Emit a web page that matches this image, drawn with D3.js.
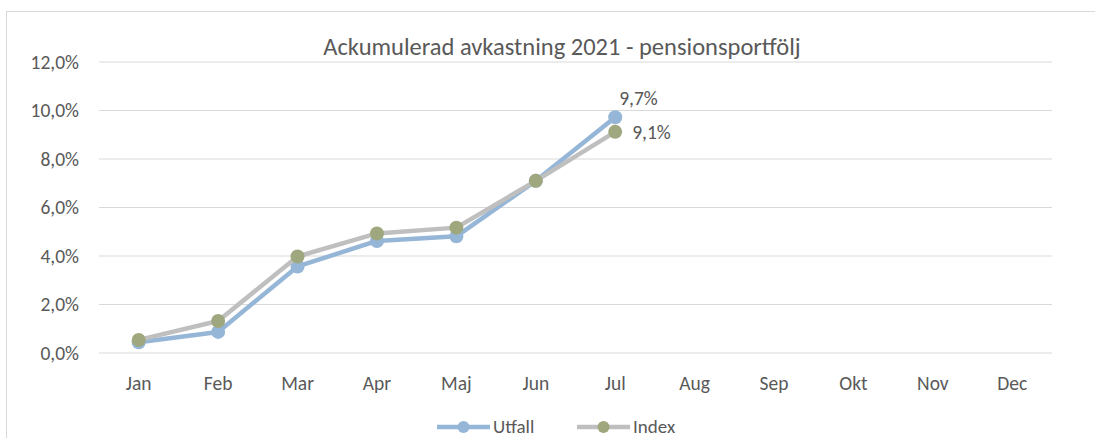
<!DOCTYPE html>
<html>
<head>
<meta charset="utf-8">
<script src="https://cdn.jsdelivr.net/npm/d3@7"></script>
<style>
  body { margin: 0; background: #fff; }
  text { font-family: Carlito, Lato, "Open Sans", sans-serif; fill: #595959; }
</style>
</head>
<body>
<svg id="grafico"></svg>
<script>
// Data
var manader = ['Jan','Feb','Mar','Apr','Maj','Jun','Jul','Aug','Sep','Okt','Nov','Dec'];
var utfall = [0.44, 0.87, 3.57, 4.62, 4.81, 7.10, 9.72];
var index = [0.54, 1.32, 3.98, 4.93, 5.17, 7.10, 9.12];
var yTicks = [0, 2, 4, 6, 8, 10, 12];
var titel = 'Ackumulerad avkastning 2021 - pensionsportfölj';

var bredd = 1095, hojd = 438;
var svg = d3.select('#grafico').attr('width', bredd).attr('height', hojd);

// Chart border
svg.append('rect')
   .attr('x', 6.5).attr('y', 11.5)
   .attr('width', 1100).attr('height', 440)
   .attr('fill', 'none').attr('stroke', '#d9d9d9');

var margem = { esquerda: 99, direita: 43, superior: 62, inferior: 85 };
var larguraPlot = bredd - margem.esquerda - margem.direita;
var alturaPlot = 353 - margem.superior;

var plot = svg.append('g')
              .attr('transform', 'translate(' + margem.esquerda + ',' + margem.superior + ')');

var x = d3.scaleBand().domain(manader).range([0, larguraPlot]);
var y = d3.scaleLinear().domain([0, 12]).range([alturaPlot, 0]);
var fmt = function(v) { return v.toFixed(1).replace('.', ',') + '%'; };
var fs = '19.5px';

// Grid
plot.selectAll('.grade')
    .data(yTicks)
    .enter().append('line')
    .attr('x1', 0).attr('x2', larguraPlot)
    .attr('y1', d => y(d)).attr('y2', d => y(d))
    .attr('stroke', '#d9d9d9').attr('stroke-width', 1);

// Y labels
plot.selectAll('.ylab')
    .data(yTicks)
    .enter().append('text')
    .attr('x', -20).attr('y', d => y(d))
    .attr('dy', '0.35em')
    .attr('text-anchor', 'end')
    .style('font-size', fs)
    .text(fmt);

// X labels
plot.selectAll('.xlab')
    .data(manader)
    .enter().append('text')
    .attr('x', d => x(d) + x.bandwidth() / 2)
    .attr('y', alturaPlot + 37)
    .attr('text-anchor', 'middle')
    .style('font-size', fs)
    .text(d => d);

// Series
var serier = [
  { namn: 'Index', data: index, linje: '#bfbfbf', punkt: '#9ea77e' },
  { namn: 'Utfall', data: utfall, linje: '#95b6d6', punkt: '#95b6d6' }
];
var linje = d3.line()
              .x((d, i) => x(manader[i]) + x.bandwidth() / 2)
              .y(d => y(d));

function ritaSerie(s) {
  plot.append('path')
      .datum(s.data)
      .attr('d', linje)
      .attr('fill', 'none')
      .attr('stroke', s.linje)
      .attr('stroke-width', 4.5)
      .attr('stroke-linejoin', 'round');
  plot.selectAll('.p' + s.namn)
      .data(s.data)
      .enter().append('circle')
      .attr('cx', (d, i) => x(manader[i]) + x.bandwidth() / 2)
      .attr('cy', d => y(d))
      .attr('r', 7)
      .attr('fill', s.punkt);
}
// Utfall drawn first, Index on top
ritaSerie(serier[1]);
ritaSerie(serier[0]);

// Data labels for last values
var sista = utfall.length - 1;
var xs = x(manader[sista]) + x.bandwidth() / 2;
plot.append('text')
    .attr('x', xs + 4).attr('y', y(utfall[sista]) - 12)
    .style('font-size', fs)
    .text(fmt(utfall[sista]));
plot.append('text')
    .attr('x', xs + 17).attr('y', y(index[sista]))
    .attr('dy', '0.35em')
    .style('font-size', fs)
    .text(fmt(index[sista]));

// Title
svg.append('text')
   .attr('x', 562).attr('y', 55)
   .attr('text-anchor', 'middle')
   .style('font-size', '24.5px')
   .text(titel);

// Legend
var legend = [
  { namn: 'Utfall', x0: 437, linje: '#95b6d6', punkt: '#95b6d6' },
  { namn: 'Index', x0: 577, linje: '#bfbfbf', punkt: '#9ea77e' }
];
var lg = svg.selectAll('.leg').data(legend).enter().append('g')
            .attr('transform', d => 'translate(' + d.x0 + ',427)');
lg.append('line').attr('x1', 0).attr('x2', 53).attr('y1', 0).attr('y2', 0)
  .attr('stroke', d => d.linje).attr('stroke-width', 4.5);
lg.append('circle').attr('cx', 26.5).attr('cy', 0).attr('r', 6)
  .attr('fill', d => d.punkt);
lg.append('text').attr('x', 56).attr('dy', '0.3em')
  .style('font-size', '19px')
  .text(d => d.namn);
</script>
</body>
</html>
